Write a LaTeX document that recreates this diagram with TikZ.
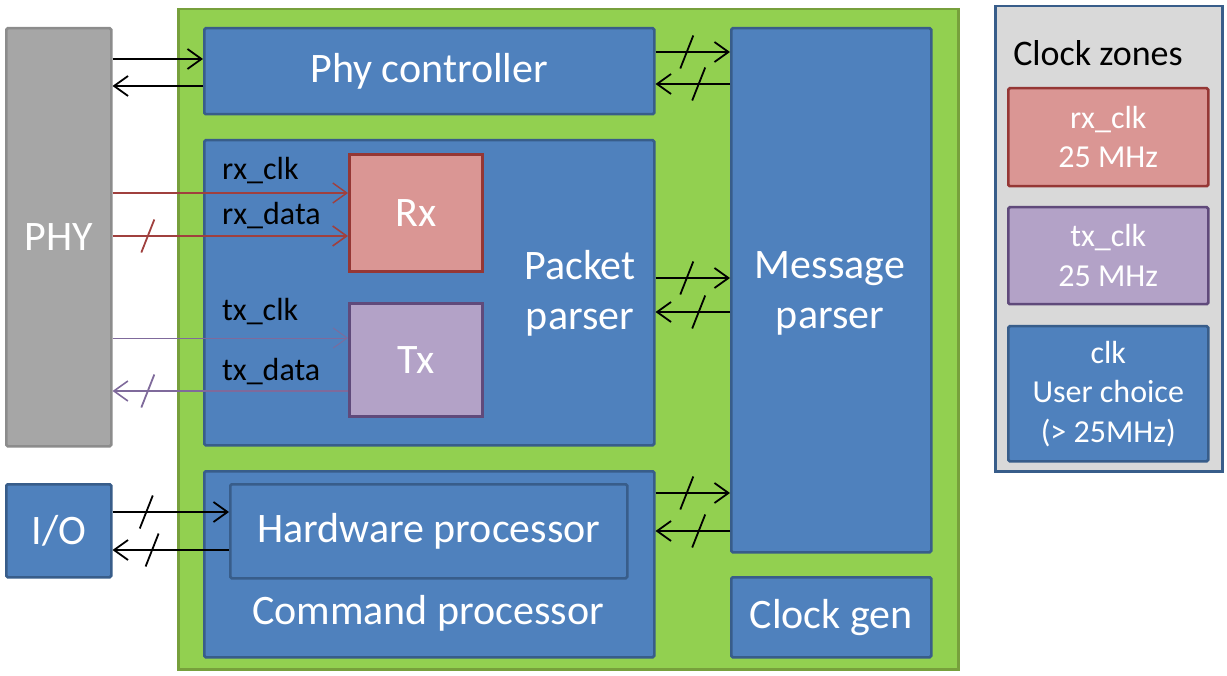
\documentclass[tikz,border=0pt]{standalone}
\usepackage{fontspec}
\setmainfont{Carlito}
\usetikzlibrary{arrows.meta,decorations.markings}
\definecolor{blu}{HTML}{4F81BD}
\definecolor{bluB}{HTML}{385D8A}
\definecolor{grn}{HTML}{92D050}
\definecolor{grnB}{HTML}{77A03C}
\definecolor{gry}{HTML}{A6A6A6}
\definecolor{gryB}{HTML}{8C8C8C}
\definecolor{rxF}{HTML}{DA9694}
\definecolor{rxB}{HTML}{953735}
\definecolor{txF}{HTML}{B3A2C7}
\definecolor{txB}{HTML}{604A7B}
\definecolor{czF}{HTML}{D9D9D9}
\definecolor{rxL}{HTML}{A0403E}
\definecolor{txL}{HTML}{7F6A9B}
\begin{document}
\begin{tikzpicture}[x=1pt,y=-1pt,
  box/.style={draw=bluB, fill=blu, line width=2.5pt, rounded corners=1.5pt, inner sep=0pt,
    anchor=north west, text=white, align=center, font=\fontsize{42}{50}\selectfont},
  bigtxt/.style={text=white, align=center, font=\fontsize{42}{50}\selectfont, inner sep=0pt},
  lbl/.style={text=black, font=\fontsize{32}{36}\selectfont, inner sep=0pt},
  zone/.style={box, font=\fontsize{32}{39.5}\selectfont},
  sig/.style={line width=1.8pt, -{Straight Barb[length=14pt,width=20pt]}},
  bus/.style={sig, postaction={decorate}, decoration={markings,
    mark=at position #1 with {\draw[line width=1.8pt,-] (-6.5pt,-16.5pt) -- (6.5pt,16.5pt);}}}
]
\useasboundingbox (0,0) rectangle (1227,676);
% PHY
\node[box, draw=gryB, fill=gry, minimum width=105, minimum height=418] (phy) at (5,27) {PHY};
% main green
\node[draw=grnB, fill=grn, line width=2.5pt, anchor=north west, inner sep=0pt,
  minimum width=780, minimum height=660] (fpga) at (177,8) {};
\node[box, minimum width=450, minimum height=86] (pc) at (203,27) {Phy controller};
\node[box, minimum width=200, minimum height=524] (mp) at (730,27) {};
\node[bigtxt] (mplbl) at (830,293) {Message\\parser};
\node[box, minimum width=450, minimum height=305] (pp) at (203,139) {};
\node[bigtxt] (pplbl) at (580,293) {Packet\\parser};
\node[box, draw=rxB, fill=rxF, line width=3pt, rounded corners=0pt, minimum width=133, minimum height=117] (rx) at (348,153) {Rx};
\node[box, draw=txB, fill=txF, line width=3pt, rounded corners=0pt, minimum width=133, minimum height=113] (tx) at (348,302) {Tx};
\node[box, minimum width=450, minimum height=186] (cp) at (203,470) {};
\node[bigtxt] (cplbl) at (428,613) {Command processor};
\node[box, minimum width=397, minimum height=94] (hp) at (229,483) {Hardware processor};
\node[box, minimum width=200, minimum height=80] (cg) at (730,576) {Clock gen};
\node[box, minimum width=105, minimum height=93] (io) at (5,483) {I/O};
% clock zones
\node[draw=bluB, fill=czF, line width=2.5pt, anchor=north west, inner sep=0pt,
  minimum width=227, minimum height=465] (cz) at (994,5) {};
\node[text=black, font=\fontsize{36}{40}\selectfont, inner sep=0pt] (czt) at (1098,53) {Clock zones};
\node[zone, draw=rxB, fill=rxF, minimum width=200, minimum height=98] (z1) at (1007,87) {rx\_clk\\25 MHz};
\node[zone, draw=txB, fill=txF, minimum width=200, minimum height=97] (z2) at (1007,206) {tx\_clk\\25 MHz};
\node[zone, minimum width=200, minimum height=135] (z3) at (1007,325) {clk\\User choice\\(> 25MHz)};
% PHY <-> Phy controller
\draw[sig] (phy.east |- 0,59) -- (pc.west |- 0,59);
\draw[sig] (pc.west |- 0,86) -- (phy.east |- 0,86);
% Phy controller <-> message parser
\draw[bus=0.42] (pc.east |- 0,52) -- (mp.west |- 0,52);
\draw[bus=0.42] (mp.west |- 0,84) -- (pc.east |- 0,84);
% packet parser <-> message parser
\draw[bus=0.42] (pp.east |- 0,278) -- (mp.west |- 0,278);
\draw[bus=0.42] (mp.west |- 0,312) -- (pp.east |- 0,312);
% command processor <-> message parser
\draw[bus=0.42] (cp.east |- 0,493) -- (mp.west |- 0,493);
\draw[bus=0.42] (mp.west |- 0,531) -- (cp.east |- 0,531);
% I/O <-> hardware processor
\draw[bus=0.29] (io.east |- 0,512) -- (hp.west |- 0,512);
\draw[bus=0.66] (hp.west |- 0,550) -- (io.east |- 0,550);
% rx / tx signals
\draw[sig, draw=rxL, line width=1.4pt] (phy.east |- 0,193) -- (rx.west |- 0,193);
\draw[bus=0.15, draw=rxL, line width=1.6pt] (phy.east |- 0,236) -- (rx.west |- 0,236);
\draw[sig, draw=txL, line width=0.9pt] (phy.east |- 0,338) -- (tx.west |- 0,338);
\draw[bus=0.85, draw=txL, line width=1.6pt] (tx.west |- 0,391) -- (phy.east |- 0,391);
\node[lbl, anchor=south west] (l1) at (222,184) {rx\_clk};
\node[lbl, anchor=south west] (l2) at (222,229) {rx\_data};
\node[lbl, anchor=south west] (l3) at (222,325) {tx\_clk};
\node[lbl, anchor=south west] (l4) at (222,385) {tx\_data};
\end{tikzpicture}
\end{document}
